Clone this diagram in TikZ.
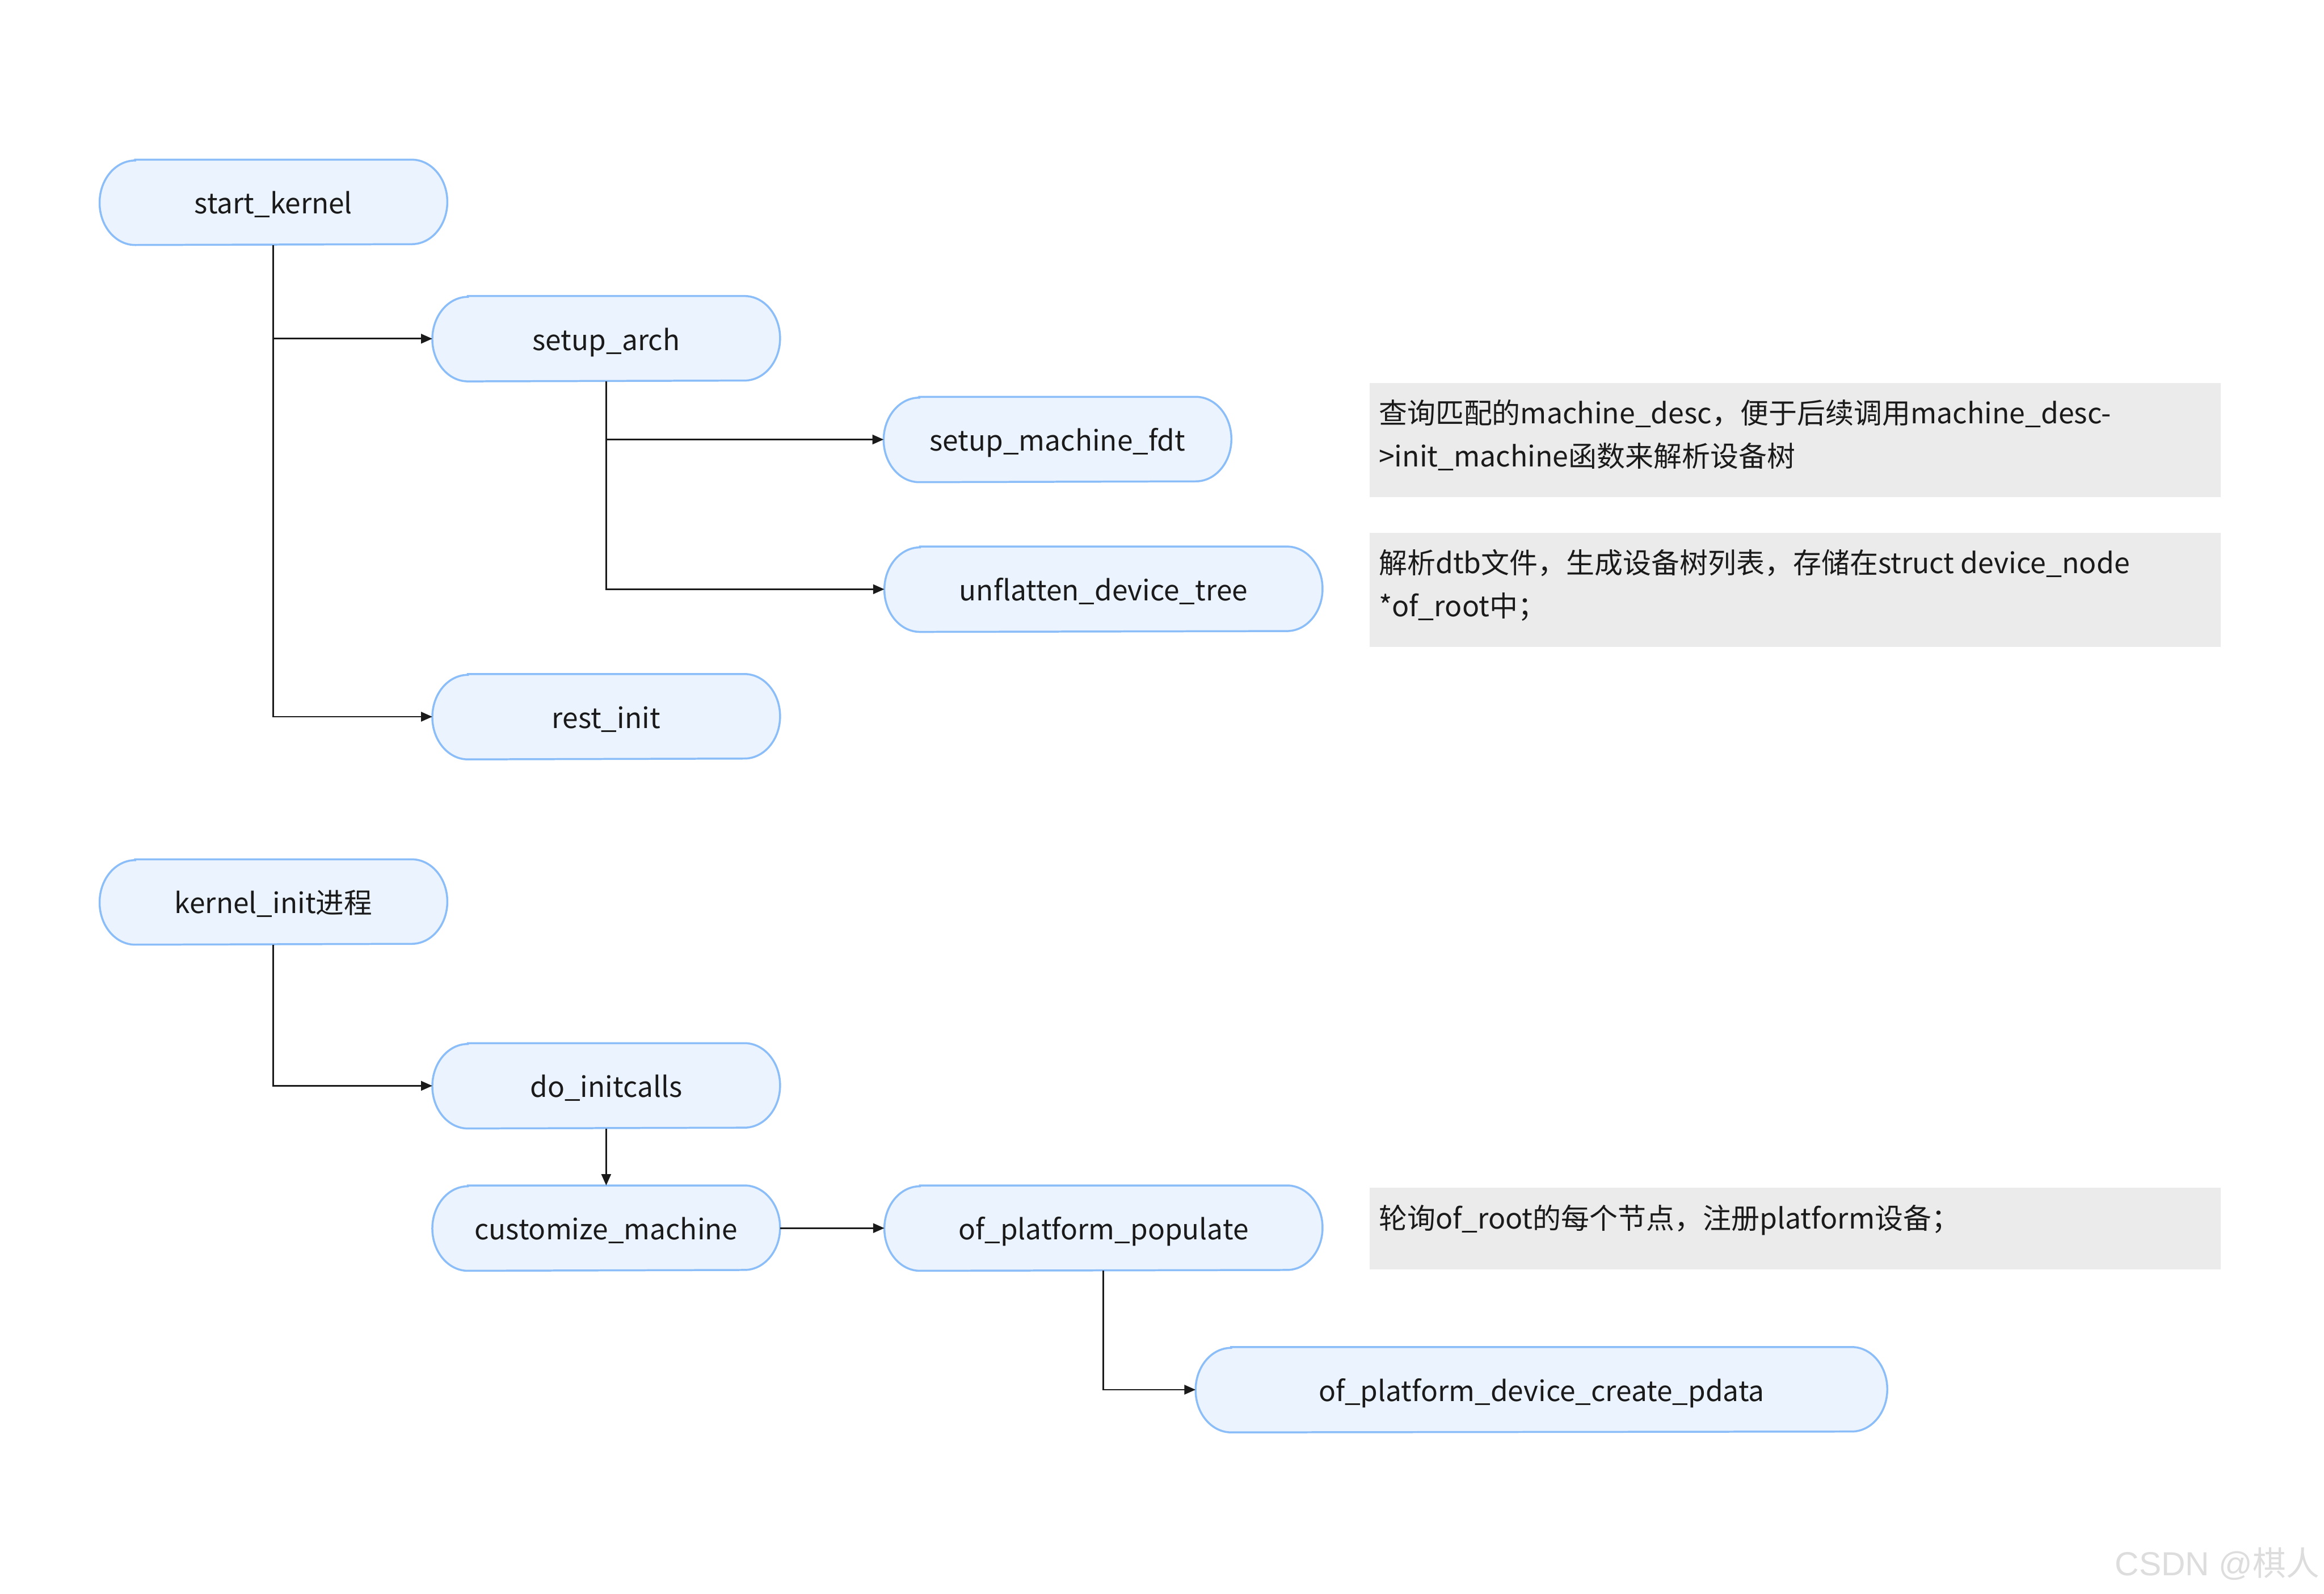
\documentclass[tikz,border=0pt]{standalone}
\usepackage{fontspec}
\setmainfont{Noto Sans CJK SC}
\newfontfamily\wmfont{Liberation Sans}
\usetikzlibrary{arrows.meta,calc,backgrounds}
\definecolor{pillfill}{HTML}{EBF3FE}
\definecolor{pilldraw}{HTML}{8BBEF8}
\definecolor{notefill}{HTML}{EBEBEB}
\definecolor{wmgray}{HTML}{DDDDDD}
\definecolor{ink}{HTML}{1A1A1A}
\tikzset{
  fn/.style={inner sep=0pt, minimum height=1.425cm, minimum width=5.85cm,
    text height=13pt, text depth=2pt,
    font=\fontsize{13.5pt}{16pt}\selectfont, text=ink},
  wide/.style={minimum width=7.375cm},
  pillpath/.style={fill=pillfill, draw=pilldraw, line width=0.95pt},
  conn/.style={draw=ink, line width=0.8pt, -{Triangle[length=0.19cm,width=0.16cm]}},
  note/.style={fill=notefill, inner sep=0pt, anchor=north west, text=ink,
    font=\fontsize{13.6pt}{20.6pt}\selectfont}
}
\newcommand\pillaround[1]{%
  \path[pillpath] let \p1=(#1.north west), \p2=(#1.south east) in
  (\x1+0.6cm,\y1) -- (\x2-0.6cm,\y1)
  arc[start angle=90,end angle=-90,x radius=0.6cm,y radius=0.7125cm]
  -- (\x1+0.6cm,\y2)
  arc[start angle=270,end angle=90,x radius=0.6cm,y radius=0.7125cm]
  -- cycle;}
\newcommand\notetext[2]{\parbox[t][#1][t]{14.35cm}{\leftskip=0.15cm\rule{0pt}{0.69cm}#2}}
\begin{document}
\begin{tikzpicture}[x=0.025cm,y=-0.025cm]
\useasboundingbox (0,0) rectangle (1568,1075);

% nodes
\node[fn] (sk)  at (184.5,136.5) {start\_kernel};
\node[fn] (sa)  at (409,228.5) {setup\_arch};
\node[fn] (smf) at (713.5,296.5) {setup\_machine\_fdt};
\node[fn,wide] (udt) at (744.5,397.5) {unflatten\_device\_tree};
\node[fn] (ri)  at (409,483.5) {rest\_init};
\node[fn] (ki)  at (184.5,608.5) {kernel\_init进程};
\node[fn] (di)  at (409,732.5) {do\_initcalls};
\node[fn] (cm)  at (409,828.5) {customize\_machine};
\node[fn,wide] (opp) at (744.5,828.5) {of\_platform\_populate};
\node[fn,minimum width=11.65cm] (opd) at (1040,937.5) {of\_platform\_device\_create\_pdata};

\begin{scope}[on background layer]
  \foreach \nm in {sk,sa,smf,udt,ri,ki,di,cm,opp,opd} {\pillaround{\nm}}
\end{scope}

% notes
\node[note] (n1) at (924,258) {\notetext{1.925cm}{查询匹配的machine\_desc，便于后续调用machine\_desc-\\{}>init\_machine函数来解析设备树}};
\node[note] (n2) at (924,359) {\notetext{1.925cm}{解析dtb文件，生成设备树列表，存储在struct device\_node\\{}*of\_root中；}};
\node[note] (n3) at (924,801) {\notetext{1.375cm}{轮询of\_root的每个节点，注册platform设备；}};

% connectors
\draw[conn] (sk.south) |- (sa.west);
\draw[conn] (sk.south) |- (ri.west);
\draw[conn] (sa.south) |- (smf.west);
\draw[conn] (sa.south) |- (udt.west);
\draw[conn] (ki.south) |- (di.west);
\draw[conn] (di.south) -- (cm.north);
\draw[conn] (cm.east) -- (opp.west);
\draw[conn] (opp.south) |- (opd.west);

% watermark
\node[text=wmgray, font=\fontsize{16pt}{19pt}\selectfont, inner sep=0pt] (wm) at (1496,1055) {{\wmfont CSDN @}棋人};
\end{tikzpicture}
\end{document}
